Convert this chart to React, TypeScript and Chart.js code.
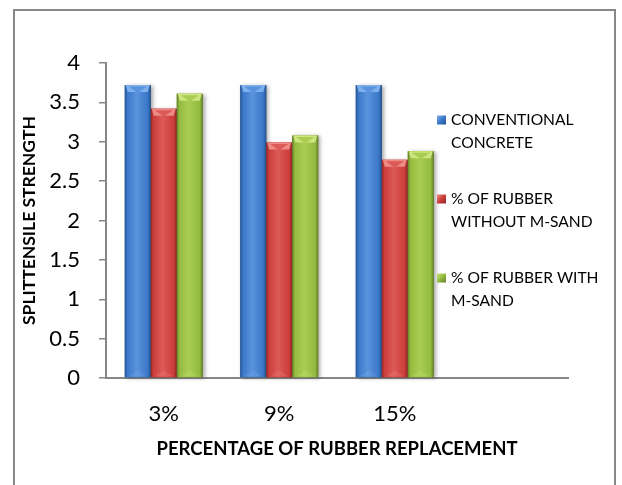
import React, { useEffect, useRef } from 'react';
import { Chart, registerables } from 'chart.js';

Chart.register(...registerables);

// Categories on the x axis (the trailing blank slot is part of the chart layout)
const categories = ['3%', '9%', '15%', ''];

// Splittensile strength per rubber replacement level
const conventional = [3.72, 3.72, 3.72];
const withoutMSand = [3.42, 2.99, 2.77];
const withMSand = [3.61, 3.08, 2.88];

// Legend text, broken into the lines it is shown on
const seriesLines = [
  ['CONVENTIONAL', 'CONCRETE'],
  ['% OF RUBBER', 'WITHOUT M-SAND'],
  ['% OF RUBBER WITH', 'M-SAND'],
];

const yTitle = 'SPLITTENSILE STRENGTH';
const xTitle = 'PERCENTAGE OF RUBBER REPLACEMENT';

const FONT = 'Lato, "Open Sans", sans-serif';
const AXIS_GRAY = '#868686';

type Palette = { dark: string; base: string; light: string; top: string };
const palettes: Palette[] = [
  { dark: '#24528f', base: '#3b78c9', light: '#5a93dd', top: '#7fb0ee' },
  { dark: '#8f2624', base: '#cc3d3b', light: '#dc5a57', top: '#ee8a86' },
  { dark: '#647f26', base: '#93bb3f', light: '#a9cd52', top: '#cbe67e' },
];

const barSkin = {
  id: 'barSkin',
  afterDatasetsDraw(chart: any) {
    const { ctx } = chart;
    chart.data.datasets.forEach((_: any, i: number) => {
      const meta = chart.getDatasetMeta(i);
      const pal = palettes[i];
      meta.data.forEach((bar: any) => {
        const { x, y, base, width } = bar.getProps(['x', 'y', 'base', 'width'], true);
        const left = x - width / 2;
        const right = x + width / 2;
        const top = Math.min(y, base);
        const bottom = Math.max(y, base);
        const h = bottom - top;

        // body with a rounded, cylinder-like shading and soft drop shadow
        ctx.save();
        ctx.shadowColor = 'rgba(0,0,0,0.35)';
        ctx.shadowBlur = 4;
        ctx.shadowOffsetX = 2;
        ctx.shadowOffsetY = 1;
        const g = ctx.createLinearGradient(left, 0, right, 0);
        g.addColorStop(0, pal.dark);
        g.addColorStop(0.1, pal.base);
        g.addColorStop(0.45, pal.light);
        g.addColorStop(0.88, pal.base);
        g.addColorStop(1, pal.dark);
        ctx.fillStyle = g;
        ctx.fillRect(left, top, width, h);
        ctx.restore();

        // bevelled top face
        ctx.save();
        const bev = 7;
        ctx.fillStyle = pal.top;
        ctx.beginPath();
        ctx.moveTo(left + 1, top);
        ctx.lineTo(right - 1, top);
        ctx.lineTo(right - 3, top + bev);
        ctx.lineTo(left + 3, top + bev);
        ctx.closePath();
        ctx.fill();
        ctx.fillStyle = pal.light;
        ctx.beginPath();
        ctx.moveTo(left + 4, top + 1.5);
        ctx.lineTo(right - 4, top + 1.5);
        ctx.lineTo(x, top + bev + 1);
        ctx.closePath();
        ctx.fill();
        // faint chevron at the foot of the bar
        ctx.globalAlpha = 0.25;
        ctx.fillStyle = pal.top;
        ctx.beginPath();
        ctx.moveTo(left + 4, bottom - 1);
        ctx.lineTo(right - 4, bottom - 1);
        ctx.lineTo(x, bottom - 7);
        ctx.closePath();
        ctx.fill();
        ctx.restore();
      });
    });
  },
};

const sideLegend = {
  id: 'sideLegend',
  afterDraw(chart: any) {
    const { ctx } = chart;
    const markerX = 437;
    const textX = 451;
    const firstY = 120;
    const entryStep = 79;
    const lineStep = 22.5;
    ctx.save();
    ctx.font = `15.6px ${FONT}`;
    ctx.textBaseline = 'middle';
    ctx.textAlign = 'left';
    chart.data.datasets.forEach((_: any, i: number) => {
      const pal = palettes[i];
      const cy = firstY + i * entryStep;
      const g = ctx.createLinearGradient(markerX, cy - 4.5, markerX + 9, cy + 4.5);
      g.addColorStop(0, pal.top);
      g.addColorStop(0.5, pal.base);
      g.addColorStop(1, pal.dark);
      ctx.fillStyle = g;
      ctx.fillRect(markerX, cy - 4.5, 9, 9);
      ctx.fillStyle = '#000';
      seriesLines[i].forEach((line, k) => {
        ctx.fillText(line, textX, cy + k * lineStep);
      });
    });
    ctx.restore();
  },
};

export default function App() {
  const canvasRef = useRef<HTMLCanvasElement>(null);

  useEffect(() => {
    if (!canvasRef.current) return;
    const mk = (i: number, data: number[]) => ({
      label: seriesLines[i].join(' '),
      data,
      backgroundColor: palettes[i].base,
      borderWidth: 0,
      barPercentage: 1,
      categoryPercentage: 0.675,
    });
    const chart = new Chart(canvasRef.current, {
      type: 'bar',
      data: {
        labels: categories,
        datasets: [mk(0, conventional), mk(1, withoutMSand), mk(2, withMSand)],
      },
      options: {
        animation: false,
        responsive: false,
        maintainAspectRatio: false,
        layout: { padding: { left: 0, right: 54, top: 63, bottom: 0 } },
        plugins: {
          legend: { display: false },
          tooltip: { enabled: false },
        },
        scales: {
          x: {
            afterFit: (s: any) => {
              s.height = 107;
            },
            grid: { display: false },
            border: { display: true, color: AXIS_GRAY, width: 2 },
            ticks: {
              color: '#000',
              font: { family: FONT, size: 22 },
              padding: 15,
              maxRotation: 0,
            },
            title: {
              display: true,
              text: xTitle,
              color: '#000',
              font: { family: FONT, size: 18.5, weight: 'bold' },
              padding: { top: 0, bottom: 25 },
            },
          },
          y: {
            min: 0,
            max: 4,
            afterFit: (s: any) => {
              s.width = 106;
            },
            grid: {
              display: true,
              drawOnChartArea: false,
              drawTicks: true,
              tickLength: 7,
              color: AXIS_GRAY,
              lineWidth: 1.5,
            },
            border: { display: true, color: AXIS_GRAY, width: 2 },
            ticks: {
              stepSize: 0.5,
              color: '#000',
              font: { family: FONT, size: 22 },
              padding: 19,
              callback: (v: any) => String(v),
            },
            title: {
              display: true,
              text: yTitle,
              color: '#000',
              font: { family: FONT, size: 17.5, weight: 'bold' },
              padding: { top: 19, bottom: 0 },
            },
          },
        },
      },
      plugins: [barSkin, sideLegend],
    });
    return () => chart.destroy();
  }, []);

  return (
    <div style={{ position: 'absolute', left: 0, top: 0, width: 622, height: 485, background: '#fff', overflow: 'hidden' }}>
      <canvas ref={canvasRef} width={622} height={485} style={{ position: 'absolute', left: 0, top: 0 }} />
      <div
        style={{
          position: 'absolute',
          left: 13,
          top: 9,
          width: 603,
          height: 520,
          borderLeft: '2px solid #878787',
          borderTop: '2px solid #878787',
          borderRight: '2px solid #878787',
          boxSizing: 'border-box',
          pointerEvents: 'none',
        }}
      />
    </div>
  );
}
